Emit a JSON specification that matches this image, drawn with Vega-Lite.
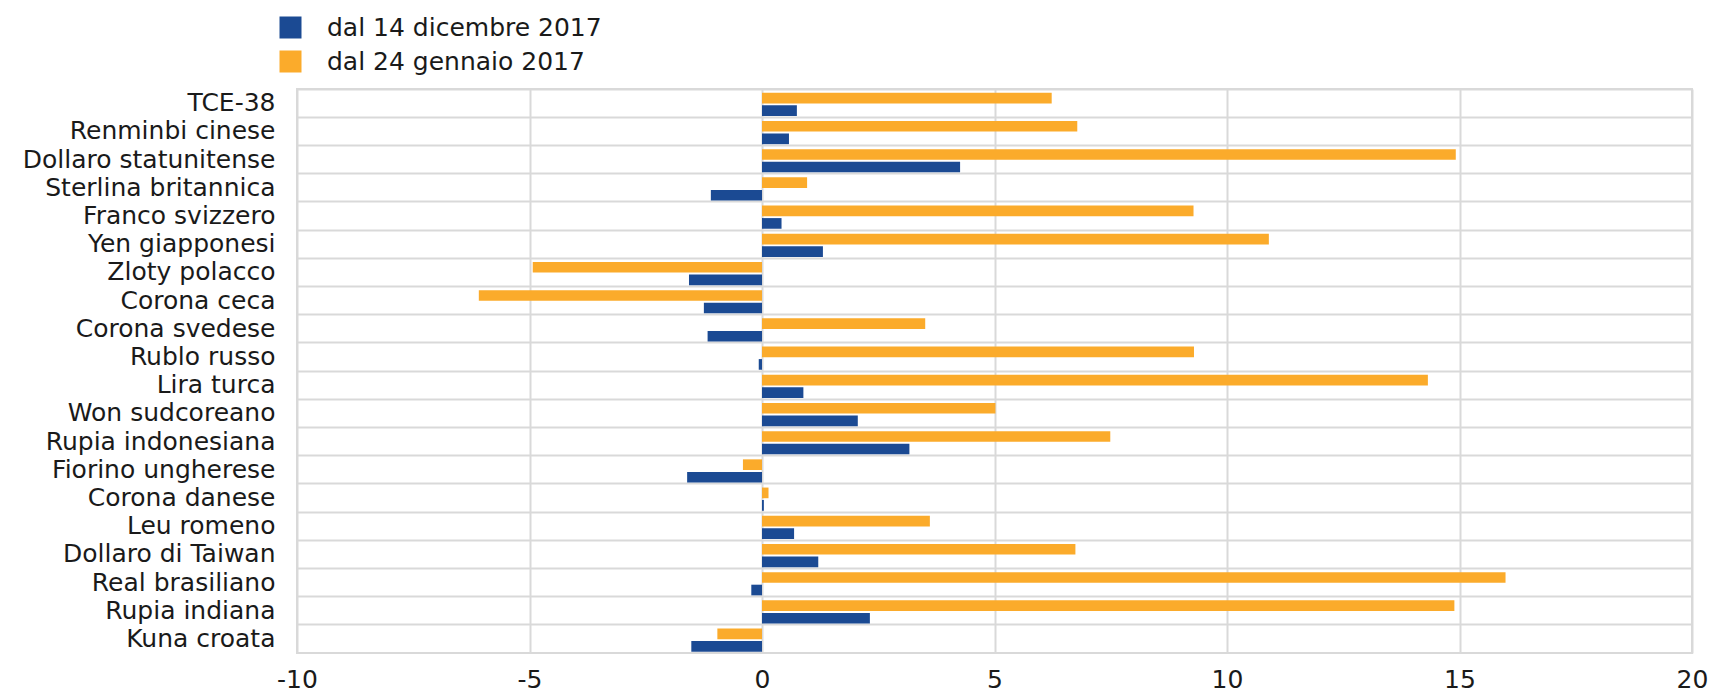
{
  "$schema": "https://vega.github.io/schema/vega-lite/v6.json",
  "width": 1395,
  "height": 564,
  "autosize": {"type": "none"},
  "padding": {"left": 297, "top": 89, "right": 19, "bottom": 39},
  "background": "white",
  "config": {"view": {"stroke": "#d9d9d9", "strokeWidth": 2}, "font": "DejaVu Sans"},
  "data": {"values": [
    {"valuta": "TCE-38", "serie": "dal 24 gennaio 2017", "valore": 6.23},
    {"valuta": "TCE-38", "serie": "dal 14 dicembre 2017", "valore": 0.75},
    {"valuta": "Renminbi cinese", "serie": "dal 24 gennaio 2017", "valore": 6.78},
    {"valuta": "Renminbi cinese", "serie": "dal 14 dicembre 2017", "valore": 0.58},
    {"valuta": "Dollaro statunitense", "serie": "dal 24 gennaio 2017", "valore": 14.92},
    {"valuta": "Dollaro statunitense", "serie": "dal 14 dicembre 2017", "valore": 4.26},
    {"valuta": "Sterlina britannica", "serie": "dal 24 gennaio 2017", "valore": 0.97},
    {"valuta": "Sterlina britannica", "serie": "dal 14 dicembre 2017", "valore": -1.1},
    {"valuta": "Franco svizzero", "serie": "dal 24 gennaio 2017", "valore": 9.28},
    {"valuta": "Franco svizzero", "serie": "dal 14 dicembre 2017", "valore": 0.42},
    {"valuta": "Yen giapponesi", "serie": "dal 24 gennaio 2017", "valore": 10.9},
    {"valuta": "Yen giapponesi", "serie": "dal 14 dicembre 2017", "valore": 1.31},
    {"valuta": "Zloty polacco", "serie": "dal 24 gennaio 2017", "valore": -4.93},
    {"valuta": "Zloty polacco", "serie": "dal 14 dicembre 2017", "valore": -1.57},
    {"valuta": "Corona ceca", "serie": "dal 24 gennaio 2017", "valore": -6.09},
    {"valuta": "Corona ceca", "serie": "dal 14 dicembre 2017", "valore": -1.25},
    {"valuta": "Corona svedese", "serie": "dal 24 gennaio 2017", "valore": 3.51},
    {"valuta": "Corona svedese", "serie": "dal 14 dicembre 2017", "valore": -1.17},
    {"valuta": "Rublo russo", "serie": "dal 24 gennaio 2017", "valore": 9.29},
    {"valuta": "Rublo russo", "serie": "dal 14 dicembre 2017", "valore": -0.07},
    {"valuta": "Lira turca", "serie": "dal 24 gennaio 2017", "valore": 14.32},
    {"valuta": "Lira turca", "serie": "dal 14 dicembre 2017", "valore": 0.89},
    {"valuta": "Won sudcoreano", "serie": "dal 24 gennaio 2017", "valore": 5.02},
    {"valuta": "Won sudcoreano", "serie": "dal 14 dicembre 2017", "valore": 2.06},
    {"valuta": "Rupia indonesiana", "serie": "dal 24 gennaio 2017", "valore": 7.49},
    {"valuta": "Rupia indonesiana", "serie": "dal 14 dicembre 2017", "valore": 3.17},
    {"valuta": "Fiorino ungherese", "serie": "dal 24 gennaio 2017", "valore": -0.41},
    {"valuta": "Fiorino ungherese", "serie": "dal 14 dicembre 2017", "valore": -1.61},
    {"valuta": "Corona danese", "serie": "dal 24 gennaio 2017", "valore": 0.14},
    {"valuta": "Corona danese", "serie": "dal 14 dicembre 2017", "valore": 0.04},
    {"valuta": "Leu romeno", "serie": "dal 24 gennaio 2017", "valore": 3.61},
    {"valuta": "Leu romeno", "serie": "dal 14 dicembre 2017", "valore": 0.69},
    {"valuta": "Dollaro di Taiwan", "serie": "dal 24 gennaio 2017", "valore": 6.74},
    {"valuta": "Dollaro di Taiwan", "serie": "dal 14 dicembre 2017", "valore": 1.21},
    {"valuta": "Real brasiliano", "serie": "dal 24 gennaio 2017", "valore": 15.99},
    {"valuta": "Real brasiliano", "serie": "dal 14 dicembre 2017", "valore": -0.23},
    {"valuta": "Rupia indiana", "serie": "dal 24 gennaio 2017", "valore": 14.89},
    {"valuta": "Rupia indiana", "serie": "dal 14 dicembre 2017", "valore": 2.32},
    {"valuta": "Kuna croata", "serie": "dal 24 gennaio 2017", "valore": -0.96},
    {"valuta": "Kuna croata", "serie": "dal 14 dicembre 2017", "valore": -1.52}
  ]},
  "mark": {"type": "bar"},
  "encoding": {
    "y": {
      "field": "valuta", "type": "nominal", "sort": null,
      "scale": {"paddingInner": 0, "paddingOuter": 0},
      "axis": {"title": null, "ticks": false, "domain": false, "labelFontSize": 25, "labelPadding": 22, "labelLimit": 0, "labelColor": "#1a1a1a", "grid": true, "bandPosition": 0, "gridColor": "#d9d9d9", "gridWidth": 2}
    },
    "x": {
      "field": "valore", "type": "quantitative",
      "scale": {"domain": [-10, 20], "nice": false, "zero": false},
      "axis": {"title": null, "values": [-10, -5, 0, 5, 10, 15, 20], "labelExpr": "'' + datum.value", "ticks": false, "domain": false, "labelFontSize": 25, "labelPadding": 14, "labelFlush": false, "labelOverlap": false, "labelColor": "#1a1a1a", "gridColor": "#d9d9d9", "gridWidth": 2}
    },
    "yOffset": {
      "field": "serie", "type": "nominal",
      "sort": ["dal 24 gennaio 2017", "dal 14 dicembre 2017"],
      "scale": {"paddingInner": 0.15, "paddingOuter": 0.2, "align": 0.75}
    },
    "color": {
      "field": "serie", "type": "nominal",
      "scale": {"domain": ["dal 14 dicembre 2017", "dal 24 gennaio 2017"], "range": ["#1b4a93", "#fbab2b"]},
      "legend": {"title": null, "orient": "none", "legendX": -19, "legendY": -74, "symbolType": "square", "symbolSize": 484, "symbolStrokeWidth": 0, "symbolOpacity": 1, "labelFontSize": 25, "labelLimit": 0, "labelColor": "#1a1a1a", "labelOffset": 24, "rowPadding": 8, "padding": 0}
    }
  }
}
